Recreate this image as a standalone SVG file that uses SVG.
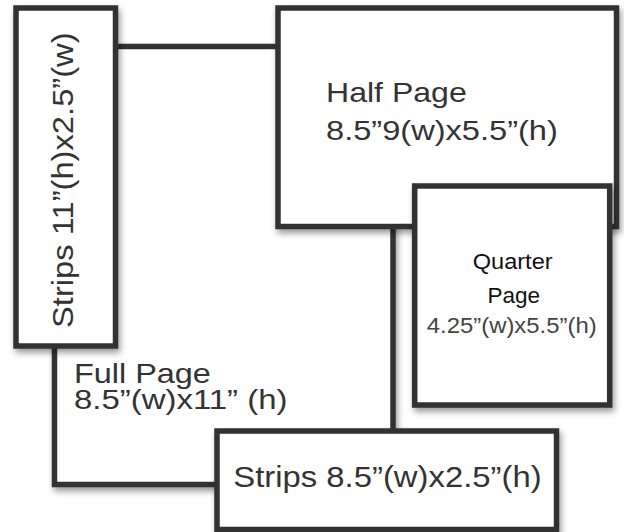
<svg xmlns="http://www.w3.org/2000/svg" width="624" height="532" viewBox="0 0 624 532">
<defs>
<filter id="sh" x="-10%" y="-10%" width="125%" height="125%">
<feDropShadow dx="2" dy="4" stdDeviation="3" flood-color="#000" flood-opacity="0.4"/>
</filter>
</defs>
<style>
.box{fill:#fff;stroke:#333;stroke-width:5.5;filter:url(#sh)}
.t{font-family:"Liberation Sans",Arial,sans-serif;fill:#333}
.q{font-family:"Liberation Sans",Arial,sans-serif;fill:#111;font-size:22px;text-anchor:middle}
</style>
<rect width="624" height="532" fill="#fff"/>
<g id="full-page">
<rect class="box" x="54.5" y="46.5" width="338.5" height="438"/>
<text class="t" font-size="27" transform="translate(74,383.3) scale(1.2,1)">Full Page</text>
<text class="t" font-size="27" transform="translate(74,409.3) scale(1.22,1)">8.5”(w)x11” (h)</text>
</g>
<g id="strip-vertical">
<rect class="box" x="16" y="8" width="99.5" height="338"/>
<text class="t" font-size="29" transform="translate(73,328) rotate(-90) scale(1.128,1)">Strips 11”(h)x2.5”(w)</text>
</g>
<g id="half-page">
<rect class="box" x="278" y="8" width="338.5" height="218.5"/>
<text class="t" font-size="27" transform="translate(326,101.7) scale(1.187,1)">Half Page</text>
<text class="t" font-size="28" transform="translate(326,140) scale(1.165,1)">8.5”9(w)x5.5”(h)</text>
</g>
<g id="quarter-page">
<rect class="box" x="414.7" y="186" width="195" height="219"/>
<text class="q" transform="translate(512.7,269.3) scale(1.07,1)">Quarter</text>
<text class="q" transform="translate(513.7,302.7) scale(1.025,1)">Page</text>
<text class="q" style="fill:#444" transform="translate(511.7,333.3) scale(1.086,1)">4.25”(w)x5.5”(h)</text>
</g>
<g id="strip-horizontal">
<rect class="box" x="217" y="431" width="339.5" height="98.5"/>
<text class="t" font-size="30" transform="translate(233.3,486.7) scale(1.095,1)">Strips 8.5”(w)x2.5”(h)</text>
</g>
<g id="connectors"/>
</svg>
